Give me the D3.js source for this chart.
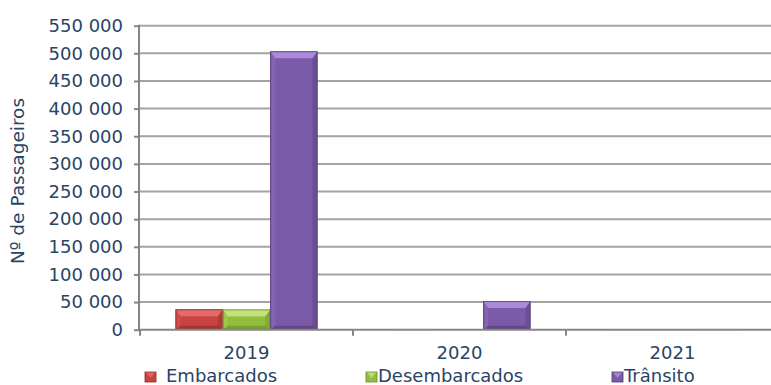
<!DOCTYPE html>
<html>
<head>
<meta charset="utf-8">
<script src="https://cdn.jsdelivr.net/npm/d3@7"></script>
<style>
  html, body { margin: 0; padding: 0; background: #fff; overflow: hidden; }
  svg { display: block; }
  text { font-family: "DejaVu Sans", Verdana, sans-serif; fill: #2A4466; }
</style>
</head>
<body>
<svg id="chart" width="771" height="385"></svg>
<script>
// Passenger counts per year
const years = ["2019", "2020", "2021"];
const seriesNames = ["Embarcados", "Desembarcados", "Trânsito"];
const embarcados = [36900, 1500, 900];
const desembarcados = [36600, 1300, 900];
const transito = [503800, 51900, 1500];
const yTicks = [0, 50000, 100000, 150000, 200000, 250000, 300000, 350000, 400000, 450000, 500000, 550000];
const axisTitle = "Nº de Passageiros";

const palette = [
  { face: "#c84341", light: "#e46a68", side: "#d04c4a", dark: "#a33432", edge: "#8a2b2a" },
  { face: "#93bd3e", light: "#c0e47a", side: "#9dc748", dark: "#78a02c", edge: "#6a8a2c" },
  { face: "#7b5aa7", light: "#a98bdb", side: "#8564b1", dark: "#634689", edge: "#4e3a6e" }
];

const values = [embarcados, desembarcados, transito];
const svg = d3.select("#chart");
const fontSize = 18;
const textColor = "#2A4466";

const plotLeft = 140, plotRight = 779, plotTop = 25.7, plotBottom = 329.7;

const x = d3.scaleBand().domain(years).range([plotLeft, plotRight]).paddingInner(0).paddingOuter(0);
const inner = d3.scaleBand().domain(seriesNames)
  .range([x.bandwidth() * 0.75 / 4.5, x.bandwidth() - x.bandwidth() * 0.75 / 4.5]);
const y = d3.scaleLinear().domain([0, 550000]).range([plotBottom, plotTop]);

// horizontal gridlines
svg.append("g").selectAll("line").data(yTicks.filter(d => d > 0)).join("line")
  .attr("x1", plotLeft - 1).attr("x2", 771)
  .attr("y1", d => y(d)).attr("y2", d => y(d))
  .attr("stroke", "#a3a3a3").attr("stroke-width", 2);

// bars with bevelled edges
const bars = svg.append("g");
years.forEach((yr, i) => {
  seriesNames.forEach((s, j) => {
    const v = values[j][i];
    const bx = x(yr) + inner(s), bw = inner.bandwidth();
    const by = y(v), bh = plotBottom - by;
    const c = palette[j];
    const g = bars.append("g");
    if (bh < 2) {
      g.append("rect").attr("x", bx).attr("y", by).attr("width", bw).attr("height", Math.max(bh, 1))
        .attr("fill", c.face).attr("opacity", 0.35);
      return;
    }
    const bt = Math.min(7, bh / 2), bs = Math.min(5, bh / 2), bb = Math.min(4, bh / 3);
    const pts = a => a.map(p => p.join(",")).join(" ");
    g.append("rect").attr("x", bx).attr("y", by).attr("width", bw).attr("height", bh).attr("fill", c.face);
    g.append("polygon").attr("points", pts([[bx, by + bh], [bx + bs, by + bh - bb], [bx + bw - bs, by + bh - bb], [bx + bw, by + bh]])).attr("fill", c.dark);
    g.append("polygon").attr("points", pts([[bx, by], [bx + bs, by + bt], [bx + bs, by + bh - bb], [bx, by + bh]])).attr("fill", c.side);
    g.append("polygon").attr("points", pts([[bx + bw, by], [bx + bw, by + bh], [bx + bw - bs, by + bh - bb], [bx + bw - bs, by + bt]])).attr("fill", c.dark).attr("opacity", 0.6);
    g.append("polygon").attr("points", pts([[bx, by], [bx + bw, by], [bx + bw - bs, by + bt], [bx + bs, by + bt]])).attr("fill", c.light);
    g.append("rect").attr("x", bx + 0.5).attr("y", by + 0.5).attr("width", bw - 1).attr("height", bh - 1)
      .attr("fill", "none").attr("stroke", c.edge).attr("stroke-width", 1).attr("opacity", 0.7);
  });
});

// y axis
const yAxis = svg.append("g").attr("transform", `translate(${plotLeft - 1},0)`)
  .call(d3.axisLeft(y).tickValues(yTicks).tickSize(5).tickPadding(11)
    .tickFormat(d => d3.format(",")(d).replace(/,/g, " ")));
yAxis.select(".domain").attr("stroke", "#868686").attr("stroke-width", 2).attr("d", `M0,${plotTop - 1}V${plotBottom}`);
yAxis.selectAll(".tick line").attr("stroke", "#868686").attr("stroke-width", 2);
yAxis.selectAll(".tick text").attr("font-size", fontSize).attr("fill", textColor)
  .style("font-family", "'DejaVu Sans', Verdana, sans-serif");

// x axis
const xAxis = svg.append("g").attr("transform", `translate(0,${plotBottom})`)
  .call(d3.axisBottom(x).tickSize(0).tickPadding(17));
xAxis.select(".domain").remove();
svg.append("line").attr("x1", plotLeft - 2).attr("x2", 771).attr("y1", plotBottom).attr("y2", plotBottom)
  .attr("stroke", "#868686").attr("stroke-width", 2);
svg.append("g").selectAll("line").data(years).join("line")
  .attr("x1", d => x(d)).attr("x2", d => x(d))
  .attr("y1", plotBottom).attr("y2", plotBottom + 6)
  .attr("stroke", "#868686").attr("stroke-width", 2);
xAxis.selectAll(".tick text").attr("font-size", fontSize).attr("fill", textColor)
  .style("font-family", "'DejaVu Sans', Verdana, sans-serif");

// axis title
svg.append("text").attr("transform", "translate(24,181) rotate(-90)")
  .attr("text-anchor", "middle").attr("font-size", 18.5).text(axisTitle);

// legend
const legendX = [145, 366, 612];
const textX = [166, 378, 624];
const leg = svg.append("g");
seriesNames.forEach((s, j) => {
  const c = palette[j];
  leg.append("rect").attr("x", legendX[j]).attr("y", 372).attr("width", 11).attr("height", 10)
    .attr("fill", c.face).attr("stroke", c.edge).attr("stroke-width", 0.8);
  leg.append("polygon").attr("points", `${legendX[j] + 1},372.5 ${legendX[j] + 10},372.5 ${legendX[j] + 5.5},378`).attr("fill", c.light).attr("opacity", 0.85);
  leg.append("text").attr("x", textX[j]).attr("y", 381.5).attr("font-size", fontSize).text(s);
});
</script>
</body>
</html>
